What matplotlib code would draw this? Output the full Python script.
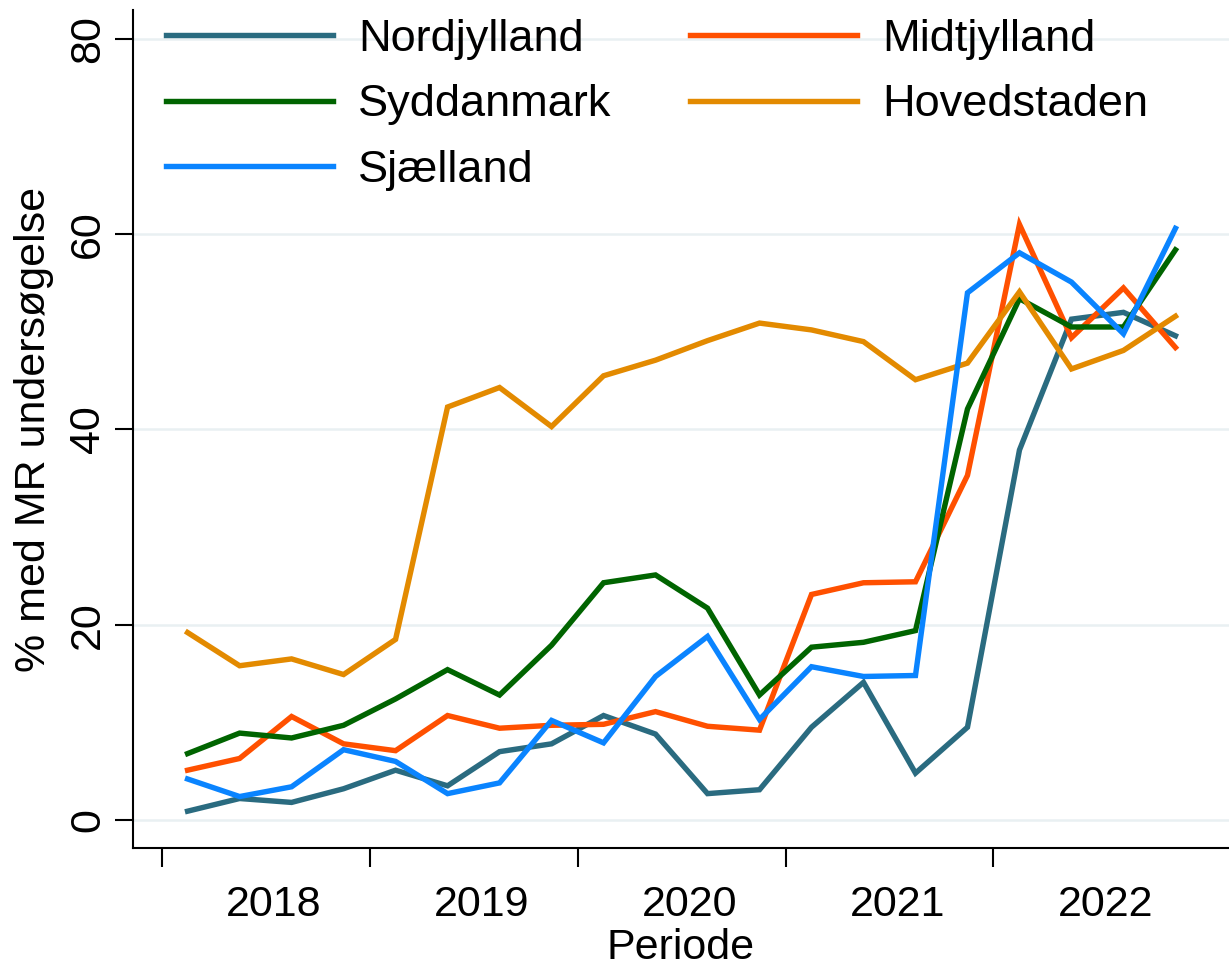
import matplotlib
matplotlib.use("Agg")
import matplotlib.pyplot as plt
import numpy as np

plt.rcParams['font.family'] = ['Liberation Sans', 'DejaVu Sans']

# kvartaler 2018K1 - 2022K4
years = ['2018', '2019', '2020', '2021', '2022']
nordjylland = [0.9, 2.2, 1.8, 3.2, 5.1, 3.5, 7.0, 7.8, 10.7, 8.8,
               2.7, 3.1, 9.5, 14.1, 4.8, 9.5, 37.9, 51.3, 52.0, 49.6]
midtjylland = [5.1, 6.3, 10.6, 7.8, 7.1, 10.7, 9.4, 9.7, 9.8, 11.1,
               9.6, 9.2, 23.1, 24.3, 24.4, 35.3, 61.0, 49.4, 54.5, 48.4]
syddanmark = [6.8, 8.9, 8.4, 9.7, 12.4, 15.4, 12.8, 17.9, 24.3, 25.1,
              21.7, 12.8, 17.7, 18.2, 19.4, 42.1, 53.4, 50.5, 50.5, 58.4]
hovedstaden = [19.2, 15.8, 16.5, 14.9, 18.5, 42.3, 44.3, 40.3, 45.5, 47.1,
               49.1, 50.9, 50.2, 49.0, 45.1, 46.8, 54.1, 46.2, 48.1, 51.6]
sjaelland = [4.2, 2.4, 3.4, 7.2, 6.0, 2.7, 3.8, 10.2, 7.9, 14.7,
             18.8, 10.3, 15.7, 14.7, 14.8, 54.0, 58.1, 55.1, 49.8, 60.6]

series = [
    ('Nordjylland', nordjylland, '#2a6b80'),
    ('Midtjylland', midtjylland, '#ff5000'),
    ('Syddanmark', syddanmark, '#006400'),
    ('Hovedstaden', hovedstaden, '#e38a00'),
    ('Sjælland', sjaelland, '#0a84ff'),
]

x = np.arange(len(nordjylland))

fig = plt.figure(figsize=(12.29, 9.66), dpi=100)
ax = fig.add_axes([133 / 1229, 118 / 966, 1 - 133 / 1229, 838 / 966])

lines = {}
for name, vals, col in series:
    ln, = ax.plot(x, vals, color=col, lw=3.9, solid_joinstyle='miter')
    lines[name] = ln

ax.set_xlim(-1.05, 20.03)
ax.set_ylim(-2.87, 82.97)

# y-akse
ax.set_yticks([0, 20, 40, 60, 80])
ax.grid(axis='y', color='#e9f0f2', lw=1.8)
ax.set_axisbelow(True)
ax.tick_params(axis='y', length=13, width=1.5, pad=5, labelsize=31)
for lab in ax.get_yticklabels():
    lab.set_rotation(90)
    lab.set_va('center')
ax.set_ylabel('% med MR undersøgelse', fontsize=31, labelpad=10)

# x-akse: streger ved årsskift, årstal midt i året
year_start = np.arange(len(years)) * 4
ax.set_xticks(year_start - 0.5)
ax.set_xticklabels([])
ax.set_xticks(year_start + 1.65, minor=True)
ax.set_xticklabels(years, minor=True)
ax.tick_params(axis='x', which='major', length=14, width=1.5)
ax.tick_params(axis='x', which='minor', length=0, pad=27, labelsize=31)
ax.set_xlabel('Periode', fontsize=31, labelpad=2)

for s in ['top', 'right']:
    ax.spines[s].set_visible(False)
for s in ['left', 'bottom']:
    ax.spines[s].set_linewidth(1.5)

order = ['Nordjylland', 'Syddanmark', 'Sjælland', 'Midtjylland', 'Hovedstaden']
ax.legend([lines[n] for n in order], order, ncol=2, frameon=False,
          loc='upper left', bbox_to_anchor=(166 / 1229, 1 - 19 / 966),
          bbox_transform=fig.transFigure, borderpad=0, borderaxespad=0,
          handlelength=3.7, handletextpad=0.55, columnspacing=1.75,
          labelspacing=0.54, fontsize=32.5)

fig.savefig('out.png', dpi=100)
